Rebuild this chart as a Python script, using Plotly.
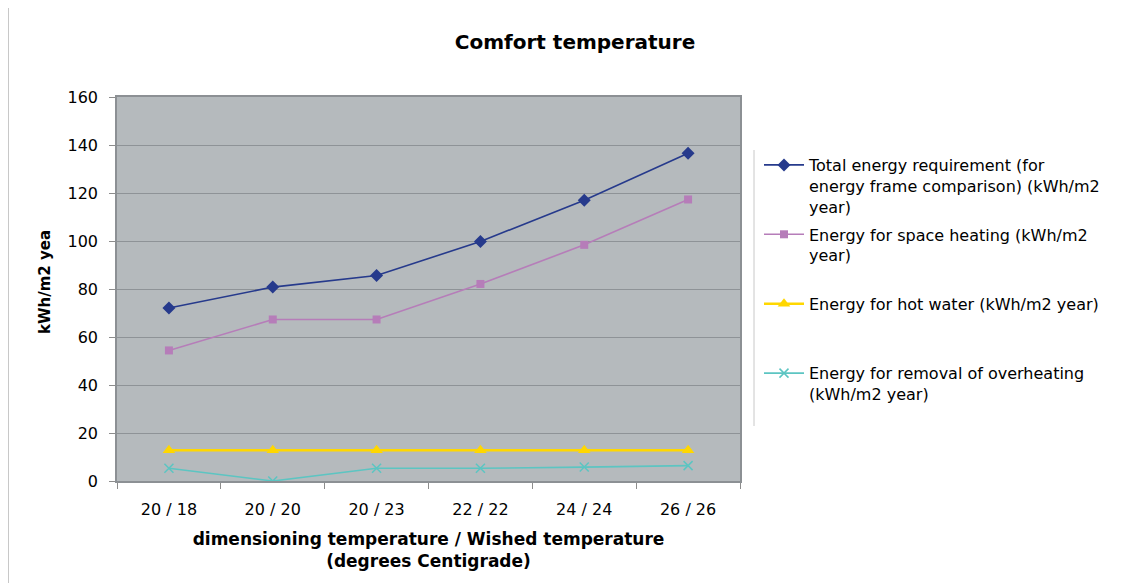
import plotly.graph_objects as go

categories = ["20 / 18", "20 / 20", "20 / 23", "22 / 22", "24 / 24", "26 / 26"]
total_energy = [72.1, 80.8, 85.6, 99.8, 117.0, 136.6]
space_heating = [54.4, 67.3, 67.3, 82.1, 98.4, 117.3]
hot_water = [12.8, 12.8, 12.8, 12.8, 12.8, 12.8]
overheating = [5.3, 0.0, 5.3, 5.3, 5.8, 6.4]

names = [
    "Total energy requirement (for<br>energy frame comparison) (kWh/m2<br>year)",
    "Energy for space heating (kWh/m2<br>year)<br>\u00a0",
    "Energy for hot water (kWh/m2 year)<br>\u00a0<br>\u00a0",
    "Energy for removal of overheating<br>(kWh/m2 year)",
]

FONT = "DejaVu Sans, Liberation Sans, Arial, sans-serif"

# page offset of the figure inside the html body (default 8px margin)
OFF = 8
PL, PR, PT, PB = 117, 740, 97, 481  # plot area in page pixels
PW, PH = PR - PL, PB - PT


def px_x(x):
    return (x - PL) / PW


def px_y(y):
    return (PB - y) / PH


fig = go.Figure()
fig.add_trace(go.Scatter(x=categories, y=total_energy, name=names[0], mode="lines+markers",
                         line=dict(color="#263A8C", width=1.6),
                         marker=dict(symbol="diamond", size=10, color="#263A8C"), legendgroup="a"))
fig.add_trace(go.Scatter(x=categories, y=space_heating, name=names[1], mode="lines+markers",
                         line=dict(color="#B67DB9", width=1.6),
                         marker=dict(symbol="square", size=8, color="#B67DB9"), legendgroup="b"))
fig.add_trace(go.Scatter(x=categories, y=hot_water, name=names[2], mode="lines+markers",
                         line=dict(color="#FFD700", width=2.6),
                         marker=dict(symbol="triangle-up", size=11, color="#FFD700"), legendgroup="c"))
fig.add_trace(go.Scatter(x=categories, y=overheating, name=names[3], mode="lines+markers",
                         line=dict(color="#5CC5C2", width=1.6),
                         marker=dict(symbol="x-thin-open", size=9, color="#5CC5C2",
                                     line=dict(color="#5CC5C2", width=1.5)), legendgroup="d"))

fig.update_layout(
    width=1140, height=583,
    margin=dict(l=PL - OFF, r=1140 + OFF - PR, t=PT - OFF, b=583 + OFF - PB),
    paper_bgcolor="white",
    plot_bgcolor="#B5BABD",
    font=dict(family=FONT, color="black", size=16),
    title=dict(text="<b>Comfort temperature</b>", x=(575 - OFF) / 1140, xanchor="center",
               y=1 - (42 - OFF) / 583, yanchor="middle",
               font=dict(family=FONT, size=20, color="black")),
    showlegend=True,
    legend=dict(x=px_x(759), xanchor="left", y=px_y(148), yanchor="top", valign="top",
                bgcolor="rgba(0,0,0,0)", font=dict(family=FONT, size=16, color="black"),
                tracegroupgap=4, itemwidth=40),
    xaxis=dict(type="category", range=[-0.5, 5.5], tickson="boundaries", ticks="outside",
               ticklen=6, tickcolor="#8C8C8C", showgrid=False, showline=True, linecolor="#8C9094",
               linewidth=1.5, mirror=True, tickfont=dict(family=FONT, size=16),
               ticklabelstandoff=13,
               title=dict(text="<b>dimensioning temperature / Wished temperature<br>(degrees Centigrade)</b>",
                          font=dict(family=FONT, size=17), standoff=15)),
    yaxis=dict(range=[0, 160], dtick=20, ticks="outside", ticklen=6, tickcolor="#8C8C8C",
               showgrid=True, gridcolor="#8E9397", gridwidth=1, showline=True,
               linecolor="#8C9094", linewidth=1.5, mirror=True, zeroline=False,
               tickfont=dict(family=FONT, size=16), ticklabelstandoff=8),
    shapes=[
        dict(type="line", xref="paper", yref="paper", x0=px_x(754), x1=px_x(754),
             y0=px_y(150), y1=px_y(426), line=dict(color="#C8C8C8", width=1)),
        dict(type="line", xref="paper", yref="paper", x0=px_x(8.5), x1=px_x(8.5),
             y0=px_y(8), y1=px_y(583), line=dict(color="#C8C8C8", width=1)),
    ],
    annotations=[
        dict(text="<b>kWh/m2 yea</b>", xref="paper", yref="paper", x=px_x(45),
             y=px_y(282), textangle=-90, showarrow=False, xanchor="center", yanchor="middle",
             font=dict(family=FONT, size=15, color="black")),
    ],
)

fig.write_html("out.html")
